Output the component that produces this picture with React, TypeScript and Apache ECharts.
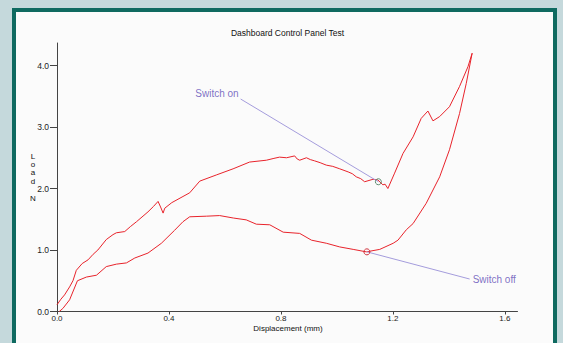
import React, { useEffect, useRef } from "react";
import * as echarts from "echarts";

// Loading curve (upper branch): displacement (mm) / load (N)
const loadX = [0, 0.014, 0.027, 0.045, 0.057, 0.069, 0.09, 0.111, 0.129, 0.146, 0.176, 0.2, 0.212, 0.242, 0.262, 0.284, 0.325, 0.345, 0.361, 0.37, 0.379, 0.385, 0.41, 0.45, 0.474, 0.51, 0.569, 0.629, 0.688, 0.748, 0.775, 0.795, 0.82, 0.849, 0.858, 0.867, 0.891, 0.905, 0.92, 0.94, 0.962, 0.985, 1.01, 1.04, 1.055, 1.069, 1.085, 1.099, 1.129, 1.146, 1.164, 1.172, 1.182, 1.206, 1.236, 1.272, 1.301, 1.325, 1.343, 1.367, 1.402, 1.438, 1.468, 1.483];
const loadY = [0.11, 0.2, 0.27, 0.40, 0.50, 0.67, 0.78, 0.84, 0.93, 1.0, 1.17, 1.25, 1.28, 1.30, 1.38, 1.46, 1.62, 1.71, 1.79, 1.70, 1.60, 1.68, 1.77, 1.87, 1.93, 2.12, 2.22, 2.32, 2.43, 2.46, 2.49, 2.51, 2.50, 2.53, 2.48, 2.46, 2.50, 2.47, 2.45, 2.42, 2.38, 2.36, 2.32, 2.27, 2.24, 2.19, 2.16, 2.11, 2.15, 2.14, 2.06, 2.07, 2.00, 2.25, 2.57, 2.84, 3.14, 3.26, 3.10, 3.17, 3.33, 3.66, 3.98, 4.20];

// Unloading curve (lower branch)
const unloadX = [1.483, 1.462, 1.438, 1.402, 1.367, 1.319, 1.272, 1.248, 1.218, 1.201, 1.153, 1.105, 1.058, 1.01, 0.962, 0.909, 0.867, 0.808, 0.76, 0.712, 0.676, 0.63, 0.581, 0.534, 0.474, 0.45, 0.42, 0.373, 0.325, 0.278, 0.248, 0.212, 0.176, 0.141, 0.105, 0.073, 0.045, 0.021, 0.008];
const unloadY = [4.20, 3.71, 3.22, 2.63, 2.19, 1.76, 1.43, 1.33, 1.16, 1.11, 1.01, 0.97, 1.01, 1.05, 1.11, 1.16, 1.27, 1.29, 1.41, 1.42, 1.49, 1.52, 1.56, 1.55, 1.54, 1.46, 1.32, 1.11, 0.95, 0.87, 0.79, 0.77, 0.73, 0.59, 0.56, 0.50, 0.19, 0.05, 0];

const xTicks = [0, 0.4, 0.8, 1.2, 1.6];
const yTicks = [0, 1, 2, 3, 4];

const switchOnPoint = [1.148, 2.11];
const switchOnLabel = [0.656, 3.455];
const switchOffPoint = [1.107, 0.97];
const switchOffLabel = [1.474, 0.528];

const TITLE = "Dashboard Control Panel Test";
const X_NAME = "Displacement (mm)";
const Y_NAME_LETTERS = ["L", "o", "a", "d", "", "N"];

const smallFont = "'Liberation Sans Narrow', 'Arial Narrow', 'Liberation Sans', sans-serif";
const annFont = "'Liberation Sans', Arial, sans-serif";
const red = "#e8232b";
const purple = "#5e4cb6";

export default function App() {
  const ref = useRef<HTMLDivElement>(null);
  useEffect(() => {
    if (!ref.current) return;
    const chart = echarts.init(ref.current, undefined, { renderer: "svg" });
    const zip = (xs: number[], ys: number[]) => xs.map((x, i) => [x, ys[i]]);
    const yNameTexts = Y_NAME_LETTERS.map((ch, i) => ({
      type: "text",
      x: 33,
      y: 156 + i * 8.46,
      style: { text: ch, fontSize: 8, fontFamily: smallFont, fill: "#111", textAlign: "center", textVerticalAlign: "middle" },
    })).filter((t) => t.style.text !== "");
    chart.setOption({
      animation: false,
      grid: { left: 57, top: 43, width: 460.5, height: 268.5, containLabel: false },
      graphic: [
        {
          type: "text",
          x: 287.5,
          y: 33,
          style: { text: TITLE, fontSize: 8.5, fontFamily: smallFont, fill: "#111", textAlign: "center", textVerticalAlign: "middle" },
        },
        {
          type: "text",
          x: 288,
          y: 328,
          style: { text: X_NAME, fontSize: 8, fontFamily: smallFont, fill: "#111", textAlign: "center", textVerticalAlign: "middle" },
        },
        ...yNameTexts,
      ],
      xAxis: {
        type: "value",
        min: 0,
        max: 1.645,
        splitLine: { show: false },
        axisLine: { lineStyle: { color: "#444", width: 1 } },
        axisTick: { show: true, length: 3, lineStyle: { color: "#444" }, customValues: xTicks },
        axisLabel: {
          customValues: xTicks,
          margin: 3,
          fontSize: 8,
          fontFamily: smallFont,
          color: "#222",
          formatter: (v: number) => v.toFixed(1),
        },
      },
      yAxis: {
        type: "value",
        min: 0,
        max: 4.366,
        splitLine: { show: false },
        axisLine: { show: true, lineStyle: { color: "#444", width: 1 } },
        axisTick: { show: true, length: 7, lineStyle: { color: "#444" }, customValues: yTicks },
        axisLabel: {
          customValues: yTicks,
          margin: 8,
          fontSize: 8.5,
          fontFamily: smallFont,
          color: "#222",
          formatter: (v: number) => v.toFixed(1),
        },
      },
      series: [
        {
          type: "line",
          data: zip(loadX, loadY),
          showSymbol: false,
          lineStyle: { color: red, width: 1 },
          itemStyle: { color: red },
          silent: true,
        },
        {
          type: "line",
          data: zip(unloadX, unloadY),
          showSymbol: false,
          lineStyle: { color: red, width: 1 },
          itemStyle: { color: red },
          silent: true,
        },
        {
          type: "line",
          data: [switchOnLabel, switchOnPoint],
          showSymbol: false,
          lineStyle: { color: "#a49cdc", width: 1 },
          silent: true,
        },
        {
          type: "line",
          data: [switchOffPoint, switchOffLabel],
          showSymbol: false,
          lineStyle: { color: "#a49cdc", width: 1 },
          silent: true,
        },
        {
          type: "scatter",
          data: [switchOnLabel],
          symbolSize: 0,
          label: {
            show: true,
            position: "left",
            distance: 2,
            offset: [0, -6],
            formatter: "Switch on",
            color: purple,
            fontSize: 10,
            fontFamily: annFont,
          },
          silent: true,
        },
        {
          type: "scatter",
          data: [switchOffLabel],
          symbolSize: 0,
          label: {
            show: true,
            position: "right",
            distance: 3,
            offset: [0, 0],
            formatter: "Switch off",
            color: purple,
            fontSize: 10,
            fontFamily: annFont,
          },
          silent: true,
        },
        {
          type: "scatter",
          data: [switchOnPoint],
          symbol: "circle",
          symbolSize: 6,
          z: 5,
          itemStyle: { color: "rgba(0,0,0,0)", borderColor: "#5f8f72", borderWidth: 1, opacity: 1 },
          silent: true,
        },
        {
          type: "scatter",
          data: [switchOffPoint],
          symbol: "circle",
          symbolSize: 6,
          z: 5,
          itemStyle: { color: "rgba(0,0,0,0)", borderColor: "#d0303a", borderWidth: 1, opacity: 1 },
          silent: true,
        },
      ],
    });
    return () => chart.dispose();
  }, []);

  return (
    <div style={{ position: "fixed", left: 0, top: 0, width: 563, height: 343, background: "#c5d9dc", overflow: "hidden" }}>
      <div
        style={{
          position: "absolute",
          left: 12,
          top: 8,
          width: 537,
          height: 400,
          border: "4px solid #0f6a60",
          background: "#fbfbfb",
        }}
      />
      <div ref={ref} style={{ position: "absolute", left: 0, top: 0, width: 563, height: 343 }} />
    </div>
  );
}
